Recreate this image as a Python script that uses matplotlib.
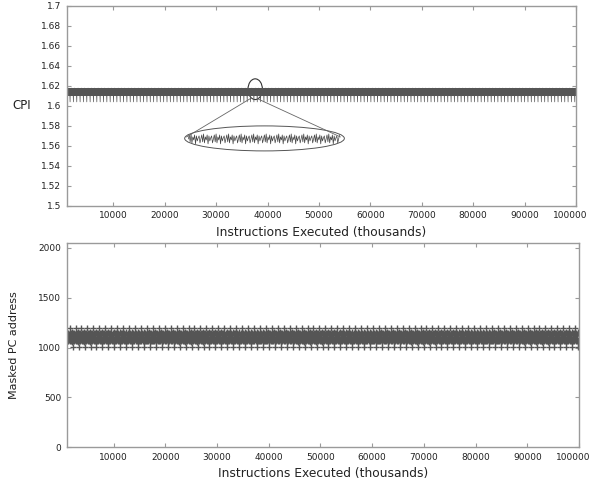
import numpy as np
import matplotlib.pyplot as plt
import matplotlib.transforms as mtransforms
from matplotlib.patches import Ellipse

# ---------- DATA ----------
# instructions executed (thousands), sampled every 50k
x_start, x_stop, x_step = 1000, 100000, 50

# one repeating CPI phase (band 1.610-1.618 with a periodic dip)
cpi_cycle = [1.6175, 1.6102, 1.6170, 1.6106, 1.6178, 1.6104, 1.6168,
             1.6108, 1.6176, 1.6103, 1.6172, 1.6107, 1.6040]

# zoomed-in CPI wiggle shown inside the big ellipse (offsets around centre)
zoom_cycle = [0.000, 0.004, -0.003, 0.005, -0.004, 0.002, -0.001, 0.004,
              -0.005, 0.003, -0.002, 0.001, 0.003, -0.004]

# masked PC address phase (solid band 1040-1170 with stray crosses)
pc_cycle = [1150, 1065, 1130, 1080, 1145, 1070, 1110, 1140, 1075, 1120,
            1200, 1148, 1062, 1125, 1090, 1142, 1068, 1100, 1135, 1078,
            1152, 1060, 1005]

xticks = [10000, 20000, 30000, 40000, 50000, 60000, 70000, 80000, 90000, 100000]
cpi_ticks = [1.5, 1.52, 1.54, 1.56, 1.58, 1.6, 1.62, 1.64, 1.66, 1.68, 1.7]
cpi_ticklabels = ["1.5", "1.52", "1.54", "1.56", "1.58", "1.6",
                  "1.62", "1.64", "1.66", "1.68", "1.7"]
pc_ticks = [0, 500, 1000, 1500, 2000]

# ---------- SERIES ----------
x = np.arange(x_start, x_stop + 1, x_step)
cpi = np.resize(cpi_cycle, len(x))
pc = np.resize(pc_cycle, len(x))

xz = np.linspace(24600, 54000, 170)
cpi_zoom = 1.567 + np.resize(zoom_cycle, len(xz))

# ---------- PLOT ----------
spine_col = "#9a9a9a"
text_col = "#222222"
line_col = "#555555"

fig = plt.figure(figsize=(5.94, 4.88), dpi=100)
ax1 = fig.add_axes([0.1128, 0.578, 0.857, 0.41])
ax2 = fig.add_axes([0.1128, 0.084, 0.862, 0.418])

ax1.plot(x, cpi, color=line_col, lw=0.5)
ax1.plot(xz, cpi_zoom, color="#444444", lw=0.5)

# highlight ellipse and its magnified view
ax1.add_patch(Ellipse((37600, 1.6167), 2800, 0.0207, fill=False,
                      ec="#333333", lw=0.8))
ax1.add_patch(Ellipse((39410, 1.5675), 31060, 0.025, fill=False,
                      ec="#555555", lw=0.7))
ax1.plot([36560, 24260], [1.607, 1.569], color="#666666", lw=0.6)
ax1.plot([38120, 54150], [1.607, 1.569], color="#666666", lw=0.6)

ax1.set_xlim(1000, 100000)
ax1.set_ylim(1.5, 1.7)
ax1.set_yticks(cpi_ticks)
ax1.set_yticklabels(cpi_ticklabels)
ax1.set_ylabel("CPI", rotation=0, fontsize=8.5, color=text_col, labelpad=14,
               va="center")

ax2.plot(x, pc, ls="none", marker="+", ms=5, mew=1.0, color=line_col)
ax2.set_xlim(1000, 100000)
ax2.set_ylim(0, 2050)
ax2.set_yticks(pc_ticks)
ax2.set_ylabel("Masked PC address", fontsize=8, color=text_col, labelpad=14)

for ax in (ax1, ax2):
    ax.set_xticks(xticks)
    ax.set_xlabel("Instructions Executed (thousands)", fontsize=8.8,
                  color=text_col, labelpad=4)
    ax.tick_params(direction="in", length=3, width=0.8, color=spine_col,
                   labelsize=6.5, labelcolor=text_col, top=True, right=True,
                   pad=4)
    for s in ax.spines.values():
        s.set_color(spine_col)
        s.set_linewidth(1.0)
    # keep the last x label inside the figure
    last = ax.get_xticklabels()[-1]
    last.set_transform(last.get_transform() +
                       mtransforms.ScaledTranslation(-4 / 72, 0, fig.dpi_scale_trans))

fig.savefig("out.png", dpi=100)
